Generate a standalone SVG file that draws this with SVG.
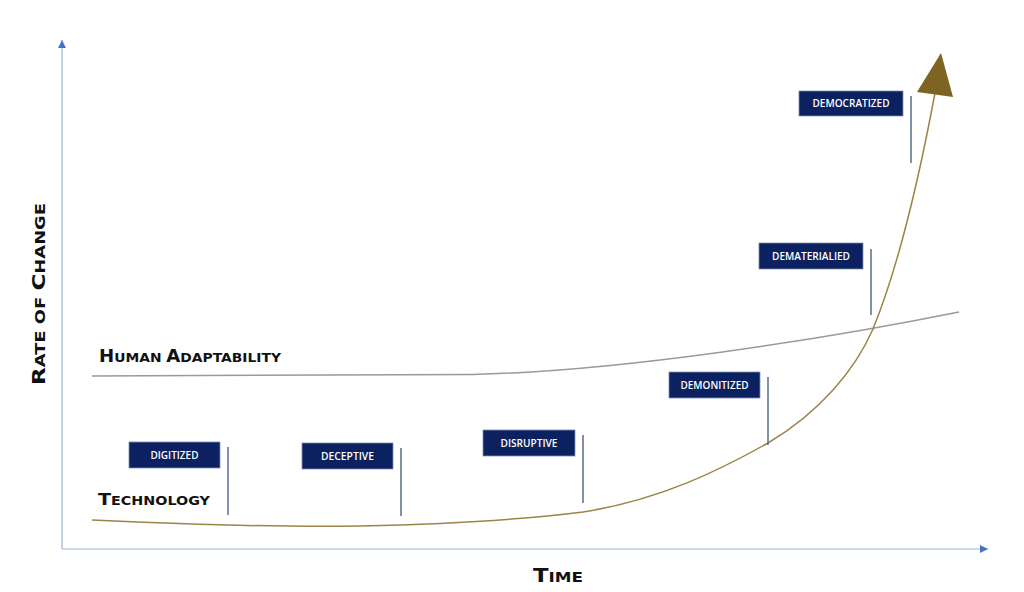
<svg xmlns="http://www.w3.org/2000/svg" width="1024" height="592" viewBox="0 0 1024 592">
<style>
.box{fill:#0b2160;stroke:#7f8fb0;stroke-width:0.8}
.blabel{font-family:"Open Sans","Liberation Sans",sans-serif;font-size:11px;font-weight:600;fill:#ffffff;text-anchor:middle}
.flag{stroke:#5d6b8e;stroke-width:1.5}
.axis{stroke:#9db2da;stroke-width:1.2;fill:none}
.title{font-family:"DejaVu Sans","Liberation Sans",sans-serif;font-weight:bold;fill:#111111}
</style>
<defs>
<marker id="ax" markerWidth="10" markerHeight="10" refX="8" refY="4" orient="auto" markerUnits="userSpaceOnUse">
<path d="M0,0 L8,4 L0,8 Z" fill="#4472c4"/>
</marker>
</defs>
<g id="axes">
<line class="axis" x1="62" y1="549" x2="62" y2="40" marker-end="url(#ax)"/>
<line class="axis" x1="62" y1="549" x2="988" y2="549" marker-end="url(#ax)"/>
<text class="title" transform="translate(45,385) rotate(-90)" textLength="182" lengthAdjust="spacingAndGlyphs"><tspan font-size="18">R</tspan><tspan font-size="14">ATE OF </tspan><tspan font-size="18">C</tspan><tspan font-size="14">HANGE</tspan></text>
<text class="title" x="533" y="582" textLength="50" lengthAdjust="spacingAndGlyphs"><tspan font-size="19">T</tspan><tspan font-size="14">IME</tspan></text>
</g>
<g id="connectors">
<path id="human-line" d="M92,376 L473,374.5 C620,371 820,340 959,312" fill="none" stroke="#9a9a9a" stroke-width="1.5"/>
<path id="tech-curve" d="M92,520 C200,525 300,527 360,526 C450,524 520,520 583,512 C660,500 720,470 768,443 C820,412 855,370 873,329 C895,275 915,200 935,93" fill="none" stroke="#9b8445" stroke-width="1.5"/>
<polygon id="tech-arrow" points="941,53 917,92 953,97" fill="#7d6422"/>
<line class="flag" x1="228" y1="447" x2="228" y2="515"/>
<line class="flag" x1="401" y1="448" x2="401" y2="516"/>
<line class="flag" x1="583" y1="435" x2="583" y2="503"/>
<line class="flag" x1="768" y1="377" x2="768" y2="445"/>
<line class="flag" x1="871" y1="249" x2="871" y2="315"/>
<line class="flag" x1="911" y1="96" x2="911" y2="163"/>
</g>
<g id="label-human">
<text class="title" x="99" y="362" textLength="182" lengthAdjust="spacingAndGlyphs"><tspan font-size="17">H</tspan><tspan font-size="13">UMAN </tspan><tspan font-size="17">A</tspan><tspan font-size="13">DAPTABILITY</tspan></text>
</g>
<g id="label-technology">
<text class="title" x="98" y="505" textLength="112" lengthAdjust="spacingAndGlyphs"><tspan font-size="16">T</tspan><tspan font-size="12">ECHNOLOGY</tspan></text>
</g>
<g id="digitized">
<rect class="box" x="129" y="442" width="91" height="26"/>
<text class="blabel" x="174.5" y="459" textLength="48" lengthAdjust="spacingAndGlyphs">DIGITIZED</text>
</g>
<g id="deceptive">
<rect class="box" x="302" y="443" width="91" height="26"/>
<text class="blabel" x="347.5" y="460" textLength="53" lengthAdjust="spacingAndGlyphs">DECEPTIVE</text>
</g>
<g id="disruptive">
<rect class="box" x="483" y="430" width="92" height="26"/>
<text class="blabel" x="529" y="447" textLength="57" lengthAdjust="spacingAndGlyphs">DISRUPTIVE</text>
</g>
<g id="demonitized">
<rect class="box" x="669" y="372" width="91" height="26"/>
<text class="blabel" x="714.5" y="389" textLength="68" lengthAdjust="spacingAndGlyphs">DEMONITIZED</text>
</g>
<g id="dematerialied">
<rect class="box" x="759" y="243" width="104" height="26"/>
<text class="blabel" x="811" y="260" textLength="78" lengthAdjust="spacingAndGlyphs">DEMATERIALIED</text>
</g>
<g id="democratized">
<rect class="box" x="799" y="91" width="104" height="25"/>
<text class="blabel" x="851" y="107" textLength="77" lengthAdjust="spacingAndGlyphs">DEMOCRATIZED</text>
</g>
</svg>
